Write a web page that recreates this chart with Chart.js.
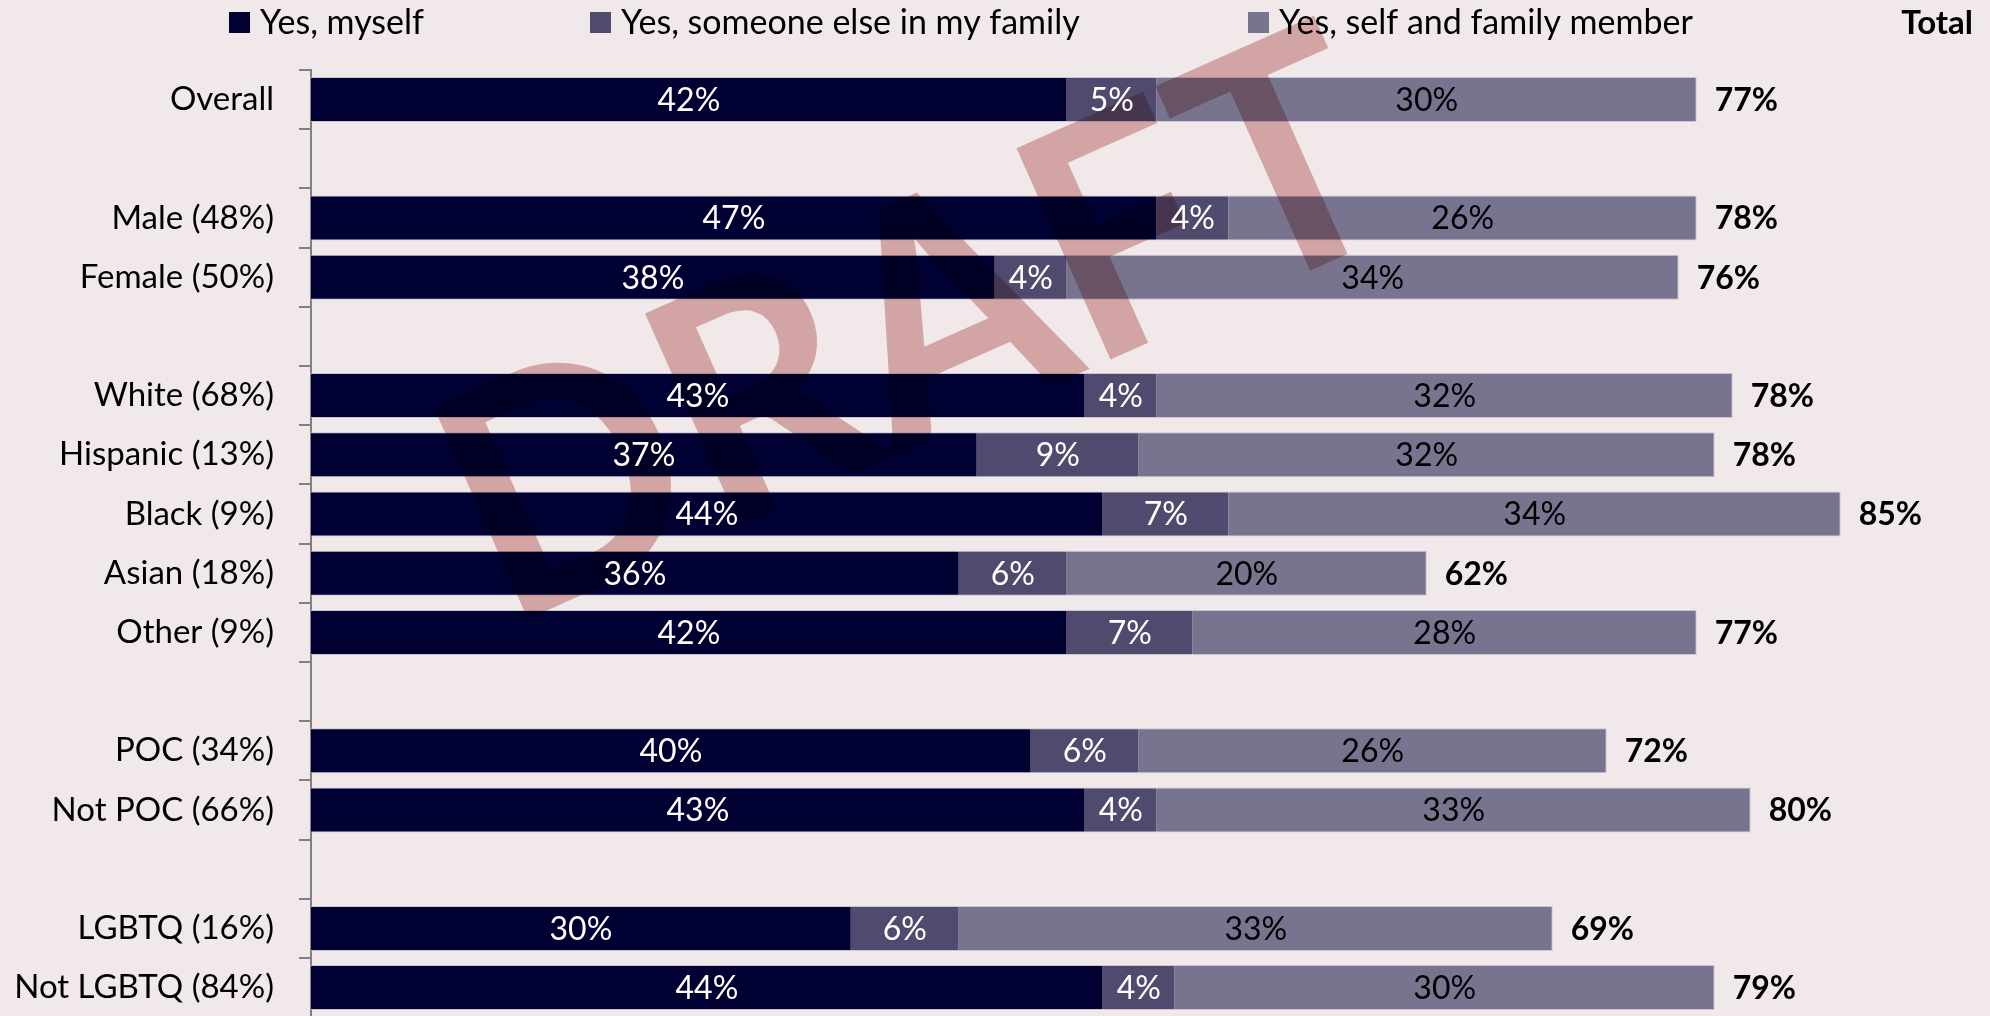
<!DOCTYPE html>
<html>
<head>
<meta charset="utf-8">
<script src="https://cdn.jsdelivr.net/npm/chart.js@4/dist/chart.umd.min.js"></script>
<style>
  html, body { margin: 0; padding: 0; background: #f0e8e9; overflow: hidden; }
  #wrap { width: 1990px; height: 1062px; position: relative; }
</style>
</head>
<body>
<div id="wrap"><canvas id="chart"></canvas></div>
<script>
const categories = ['Overall', '', 'Male (48%)', 'Female (50%)', '', 'White (68%)', 'Hispanic (13%)',
  'Black (9%)', 'Asian (18%)', 'Other (9%)', '', 'POC (34%)', 'Not POC (66%)', '', 'LGBTQ (16%)', 'Not LGBTQ (84%)'];
const seriesNames = ['Yes, myself', 'Yes, someone else in my family', 'Yes, self and family member'];
const myself = [42, null, 47, 38, null, 43, 37, 44, 36, 42, null, 40, 43, null, 30, 44];
const family = [5, null, 4, 4, null, 4, 9, 7, 6, 7, null, 6, 4, null, 6, 4];
const both = [30, null, 26, 34, null, 32, 32, 34, 20, 28, null, 26, 33, null, 33, 30];
const totals = [77, null, 78, 76, null, 78, 78, 85, 62, 77, null, 72, 80, null, 69, 79];

const FONT = 'Lato';
const colors = ['#000033', '#4f4a6e', '#78748f'];
const labelColors = ['#ffffff', '#ffffff', '#000000'];

// background, watermark, segment labels, totals, legend
const extras = {
  id: 'extras',
  beforeDraw(chart) {
    const ctx = chart.ctx;
    ctx.save();
    ctx.fillStyle = '#f0e8e9';
    ctx.fillRect(0, 0, chart.width, chart.height);
    ctx.restore();
  },
  afterDatasetsDraw(chart) {
    const ctx = chart.ctx;

    // DRAFT watermark (over the bars, under the labels)
    ctx.save();
    ctx.globalCompositeOperation = 'multiply';
    ctx.fillStyle = 'rgb(225,180,180)';
    ctx.translate(912, 322);
    ctx.rotate(-24 * Math.PI / 180);
    ctx.scale(0.95, 1);
    ctx.font = 'bold 320px ' + FONT;
    ctx.textAlign = 'center';
    ctx.textBaseline = 'alphabetic';
    ctx.fillText('DRAFT', 0, 115);
    ctx.restore();

    ctx.save();
    ctx.textBaseline = 'middle';
    ctx.textAlign = 'center';
    ctx.font = '32px ' + FONT;
    chart.data.datasets.forEach((ds, i) => {
      const meta = chart.getDatasetMeta(i);
      meta.data.forEach((bar, j) => {
        if (ds.data[j] == null) return;
        const p = bar.getCenterPoint();
        ctx.fillStyle = labelColors[i];
        ctx.fillText(ds.data[j] + '%', p.x, p.y + 1);
      });
    });
    // totals
    const last = chart.getDatasetMeta(chart.data.datasets.length - 1);
    ctx.font = 'bold 32px ' + FONT;
    ctx.textAlign = 'left';
    ctx.fillStyle = '#000';
    last.data.forEach((bar, j) => {
      if (totals[j] == null) return;
      ctx.fillText(totals[j] + '%', bar.x + 18, bar.y + 1);
    });
    ctx.restore();
  },
  afterDraw(chart) {
    const ctx = chart.ctx;
    ctx.save();
    // legend
    const xs = [229, 590, 1248];
    ctx.font = '34px ' + FONT;
    ctx.textBaseline = 'middle';
    ctx.textAlign = 'left';
    seriesNames.forEach((name, i) => {
      ctx.fillStyle = colors[i];
      ctx.fillRect(xs[i], 12, 21, 21);
      ctx.fillStyle = '#000';
      ctx.fillText(name, xs[i] + 31, 23);
    });
    ctx.font = 'bold 33px ' + FONT;
    ctx.textAlign = 'right';
    ctx.fillText('Total', 1973, 23);
    ctx.restore();
  }
};

const series = [myself, family, both];
const datasets = series.map((d, i) => ({
  label: seriesNames[i],
  data: d,
  backgroundColor: colors[i],
  borderColor: '#c9c4d6',
  borderWidth: { top: 1, bottom: 1, left: 0, right: i === 2 ? 1 : 0 },
  borderSkipped: false,
  categoryPercentage: 1,
  barPercentage: 0.76
}));

new Chart(document.getElementById('chart'), {
  type: 'bar',
  data: { labels: categories, datasets: datasets },
  options: {
    indexAxis: 'y',
    responsive: true,
    maintainAspectRatio: false,
    animation: false,
    layout: { padding: { top: 70, left: 0, right: 0, bottom: 0 } },
    plugins: { legend: { display: false }, tooltip: { enabled: false } },
    scales: {
      x: { stacked: true, min: 0, max: 93.3, display: false },
      y: {
        stacked: true,
        afterFit: (s) => { s.width = 311; },
        grid: { display: true, drawOnChartArea: false, drawTicks: true, tickLength: 12,
                color: '#808080', lineWidth: 2, offset: true },
        border: { display: true, color: '#808080', width: 2 },
        ticks: { color: '#000', padding: 25, font: { family: FONT, size: 33 }, autoSkip: false }
      }
    }
  },
  plugins: [extras]
});
</script>
</body>
</html>
